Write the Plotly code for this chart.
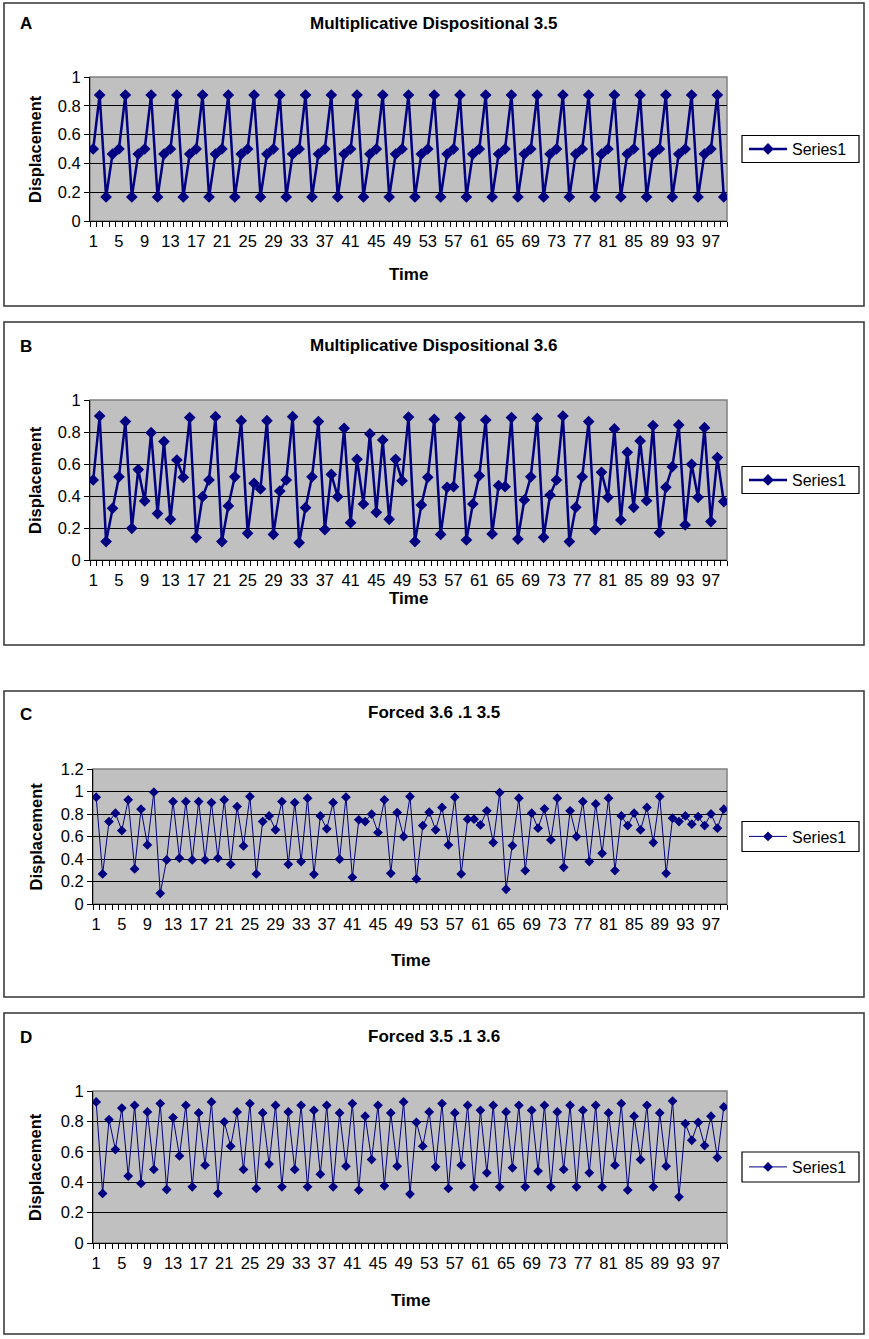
import plotly.graph_objects as go

W, H = 869, 1339
FONT = "Liberation Sans, Arial, sans-serif"
NAVY = "#000080"

# ---------------- data ----------------
time = list(range(1, 100))

x_tick_values = [1, 5, 9, 13, 17, 21, 25, 29, 33, 37, 41, 45, 49, 53, 57, 61, 65, 69, 73, 77, 81, 85, 89, 93, 97]
x_tick_labels = ["1", "5", "9", "13", "17", "21", "25", "29", "33", "37", "41", "45", "49",
                 "53", "57", "61", "65", "69", "73", "77", "81", "85", "89", "93", "97"]

y_tick_values = [0, 0.2, 0.4, 0.6, 0.8, 1.0]
y_tick_labels = ["0", "0.2", "0.4", "0.6", "0.8", "1"]
y_tick_values_c = [0, 0.2, 0.4, 0.6, 0.8, 1.0, 1.2]
y_tick_labels_c = ["0", "0.2", "0.4", "0.6", "0.8", "1", "1.2"]

disp_a = [0.50, 0.875, 0.167, 0.465, 0.50, 0.875, 0.167, 0.465, 0.50, 0.875,
          0.167, 0.465, 0.50, 0.875, 0.167, 0.465, 0.50, 0.875, 0.167, 0.465,
          0.50, 0.875, 0.167, 0.465, 0.50, 0.875, 0.167, 0.465, 0.50, 0.875,
          0.167, 0.465, 0.50, 0.875, 0.167, 0.465, 0.50, 0.875, 0.167, 0.465,
          0.50, 0.875, 0.167, 0.465, 0.50, 0.875, 0.167, 0.465, 0.50, 0.875,
          0.167, 0.465, 0.50, 0.875, 0.167, 0.465, 0.50, 0.875, 0.167, 0.465,
          0.50, 0.875, 0.167, 0.465, 0.50, 0.875, 0.167, 0.465, 0.50, 0.875,
          0.167, 0.465, 0.50, 0.875, 0.167, 0.465, 0.50, 0.875, 0.167, 0.465,
          0.50, 0.875, 0.167, 0.465, 0.50, 0.875, 0.167, 0.465, 0.50, 0.875,
          0.167, 0.465, 0.50, 0.875, 0.167, 0.465, 0.50, 0.875, 0.167]

disp_b = [0.50, 0.90, 0.115, 0.323, 0.52, 0.865, 0.198, 0.565, 0.369, 0.796,
          0.29, 0.74, 0.254, 0.625, 0.517, 0.89, 0.14, 0.396, 0.50, 0.896,
          0.115, 0.338, 0.52, 0.871, 0.167, 0.479, 0.444, 0.871, 0.16, 0.431,
          0.50, 0.896, 0.108, 0.327, 0.52, 0.865, 0.19, 0.535, 0.396, 0.823,
          0.233, 0.629, 0.35, 0.788, 0.298, 0.75, 0.254, 0.629, 0.496, 0.893,
          0.115, 0.344, 0.517, 0.879, 0.16, 0.454, 0.458, 0.89, 0.125, 0.35,
          0.527, 0.875, 0.163, 0.465, 0.458, 0.89, 0.131, 0.375, 0.52, 0.885,
          0.142, 0.406, 0.50, 0.90, 0.115, 0.329, 0.52, 0.865, 0.19, 0.548,
          0.392, 0.819, 0.25, 0.673, 0.329, 0.744, 0.371, 0.84, 0.171, 0.454,
          0.583, 0.844, 0.219, 0.598, 0.392, 0.827, 0.24, 0.64, 0.365]

disp_c = [0.95, 0.267, 0.733, 0.807, 0.653, 0.926, 0.312, 0.843, 0.525, 0.994,
          0.095, 0.392, 0.911, 0.407, 0.911, 0.392, 0.911, 0.392, 0.902, 0.407,
          0.926, 0.353, 0.866, 0.516, 0.955, 0.267, 0.733, 0.783, 0.659, 0.911,
          0.353, 0.902, 0.377, 0.941, 0.264, 0.783, 0.668, 0.902, 0.398, 0.95,
          0.237, 0.748, 0.733, 0.798, 0.635, 0.926, 0.273, 0.813, 0.599, 0.955,
          0.223, 0.697, 0.816, 0.659, 0.858, 0.525, 0.95, 0.267, 0.754, 0.754,
          0.703, 0.828, 0.546, 0.991, 0.131, 0.519, 0.941, 0.297, 0.807, 0.674,
          0.846, 0.57, 0.941, 0.326, 0.828, 0.599, 0.911, 0.377, 0.89, 0.451,
          0.941, 0.297, 0.783, 0.697, 0.807, 0.659, 0.858, 0.546, 0.955, 0.273,
          0.763, 0.733, 0.783, 0.709, 0.777, 0.697, 0.801, 0.674, 0.843]

disp_d = [0.928, 0.326, 0.812, 0.615, 0.888, 0.44, 0.906, 0.392, 0.862, 0.484,
          0.917, 0.352, 0.825, 0.573, 0.906, 0.37, 0.856, 0.512, 0.928, 0.326,
          0.797, 0.637, 0.862, 0.484, 0.917, 0.359, 0.856, 0.519, 0.906, 0.37,
          0.862, 0.484, 0.906, 0.37, 0.873, 0.453, 0.906, 0.37, 0.856, 0.505,
          0.917, 0.348, 0.834, 0.549, 0.906, 0.376, 0.856, 0.505, 0.928, 0.322,
          0.794, 0.637, 0.862, 0.501, 0.917, 0.359, 0.856, 0.512, 0.906, 0.37,
          0.873, 0.462, 0.906, 0.37, 0.862, 0.495, 0.906, 0.37, 0.873, 0.473,
          0.906, 0.37, 0.862, 0.484, 0.906, 0.37, 0.873, 0.462, 0.906, 0.37,
          0.856, 0.512, 0.917, 0.348, 0.834, 0.549, 0.906, 0.37, 0.856, 0.505,
          0.934, 0.304, 0.786, 0.676, 0.794, 0.641, 0.834, 0.562, 0.895]

titles = ["Multiplicative Dispositional 3.5", "Multiplicative Dispositional 3.6",
          "Forced 3.6 .1 3.5", "Forced 3.5 .1 3.6"]
letters = ["A", "B", "C", "D"]
series_name = "Series1"

# ---------------- layout (pixel geometry) ----------------
def px(x):
    return x / W


def py(y):
    return 1 - y / H


panels = [
    dict(values=disp_a, box=(4, 3, 864, 306), plot=(90, 727, 77, 221), title_y=23,
         time_y=275, yr=1.0, yv=y_tick_values, yl=y_tick_labels, lw=2.5, ms=9, leg_h=27),
    dict(values=disp_b, box=(4, 322, 864, 645), plot=(90, 727, 400, 560), title_y=345,
         time_y=598, yr=1.0, yv=y_tick_values, yl=y_tick_labels, lw=2.5, ms=9, leg_h=27),
    dict(values=disp_c, box=(4, 691, 864, 997), plot=(93, 727, 769, 904), title_y=713,
         time_y=960, yr=1.2, yv=y_tick_values_c, yl=y_tick_labels_c, lw=1, ms=7.5, leg_h=30),
    dict(values=disp_d, box=(4, 1013, 864, 1334), plot=(93, 727, 1091, 1243), title_y=1036,
         time_y=1300, yr=1.0, yv=y_tick_values, yl=y_tick_labels, lw=1, ms=7.5, leg_h=30),
]

fig = go.Figure()
shapes = []
annotations = []
layout = {}

for i, p in enumerate(panels, start=1):
    sfx = "" if i == 1 else str(i)
    xl, xr, yt, yb = p["plot"]
    bx0, by0, bx1, by1 = p["box"]
    yc = (yt + yb) / 2

    fig.add_trace(go.Scatter(
        x=time, y=p["values"], mode="lines+markers", name=series_name,
        line=dict(color=NAVY, width=p["lw"]),
        marker=dict(symbol="diamond", size=p["ms"], color=NAVY),
        xaxis="x" + sfx, yaxis="y" + sfx, legend="legend" + sfx,
    ))

    layout["xaxis" + sfx] = dict(
        domain=[px(xl), px(xr)], anchor="y" + sfx, range=[0.5, len(time) + 0.5],
        tickmode="array", tickvals=x_tick_values, ticktext=x_tick_labels,
        ticks="outside", ticklen=5, tickcolor="rgba(0,0,0,0)",
        minor=dict(tickmode="linear", tick0=0.5, dtick=1, ticks="outside",
                   ticklen=5, tickcolor="black", tickwidth=1, showgrid=False),
        showline=True, linecolor="black", linewidth=1, showgrid=False, zeroline=False,
        tickfont=dict(family=FONT, size=16.5, color="black"), fixedrange=True,
        automargin=False,
    )
    layout["yaxis" + sfx] = dict(
        domain=[py(yb), py(yt)], anchor="x" + sfx, range=[0, p["yr"]],
        tickmode="array", tickvals=p["yv"], ticktext=p["yl"],
        ticks="outside", ticklen=5, tickcolor="black",
        showline=True, linecolor="black", linewidth=1,
        showgrid=True, gridcolor="black", gridwidth=1, zeroline=False,
        tickfont=dict(family=FONT, size=16.5, color="black"), fixedrange=True,
        automargin=False,
    )
    layout["legend" + sfx] = dict(
        x=px(744), xanchor="left", y=py(yc), yanchor="middle",
        bgcolor="rgba(0,0,0,0)", borderwidth=0, itemwidth=38,
        font=dict(family=FONT, size=16, color="black"),
    )

    # outer chart box
    shapes.append(dict(type="rect", xref="paper", yref="paper",
                       x0=px(bx0), x1=px(bx1), y0=py(by1), y1=py(by0),
                       line=dict(color="#333333", width=1.5), layer="below"))
    # plot-area border
    shapes.append(dict(type="rect", xref="x" + sfx + " domain", yref="y" + sfx + " domain",
                       x0=0, x1=1, y0=0, y1=1,
                       line=dict(color="#808080", width=1.5), layer="below"))
    # legend frame
    shapes.append(dict(type="rect", xref="paper", yref="paper",
                       x0=px(742), x1=px(859),
                       y0=py(yc + p["leg_h"] / 2), y1=py(yc - p["leg_h"] / 2),
                       line=dict(color="black", width=1.2), fillcolor="white", layer="below"))

    annotations.append(dict(text="<b>" + titles[i - 1] + "</b>", xref="paper", yref="paper",
                            x=px((bx0 + bx1) / 2), y=py(p["title_y"]), xanchor="center",
                            yanchor="middle", showarrow=False,
                            font=dict(family=FONT, size=17, color="black")))
    annotations.append(dict(text="<b>" + letters[i - 1] + "</b>", xref="paper", yref="paper",
                            x=px(18), y=py(p["title_y"] + 1), xanchor="left",
                            yanchor="middle", showarrow=False,
                            font=dict(family=FONT, size=17, color="black")))
    annotations.append(dict(text="<b>Displacement</b>", xref="paper", yref="paper",
                            x=px(35), y=py(yc), xanchor="center",
                            yanchor="middle", textangle=-90, showarrow=False,
                            font=dict(family=FONT, size=16.5, color="black")))
    annotations.append(dict(text="<b>Time</b>", xref="paper", yref="paper",
                            x=px((xl + xr) / 2), y=py(p["time_y"]), xanchor="center",
                            yanchor="middle", showarrow=False,
                            font=dict(family=FONT, size=17, color="black")))

fig.update_layout(
    width=W, height=H, margin=dict(l=0, r=0, t=0, b=0, pad=0, autoexpand=False),
    paper_bgcolor="white", plot_bgcolor="#C0C0C0",
    showlegend=True, shapes=shapes, annotations=annotations,
    font=dict(family=FONT, color="black"),
    **layout,
)

fig.write_html(
    "out.html",
    config={"displayModeBar": False},
    post_script=(
        "var d=document.getElementById('{plot_id}');"
        "d.style.position='absolute';d.style.top='0px';d.style.left='0px';"
        "document.documentElement.style.margin='0';"
        "document.documentElement.style.overflow='hidden';"
        "document.body.style.margin='0';document.body.style.overflow='hidden';"
    ),
)
